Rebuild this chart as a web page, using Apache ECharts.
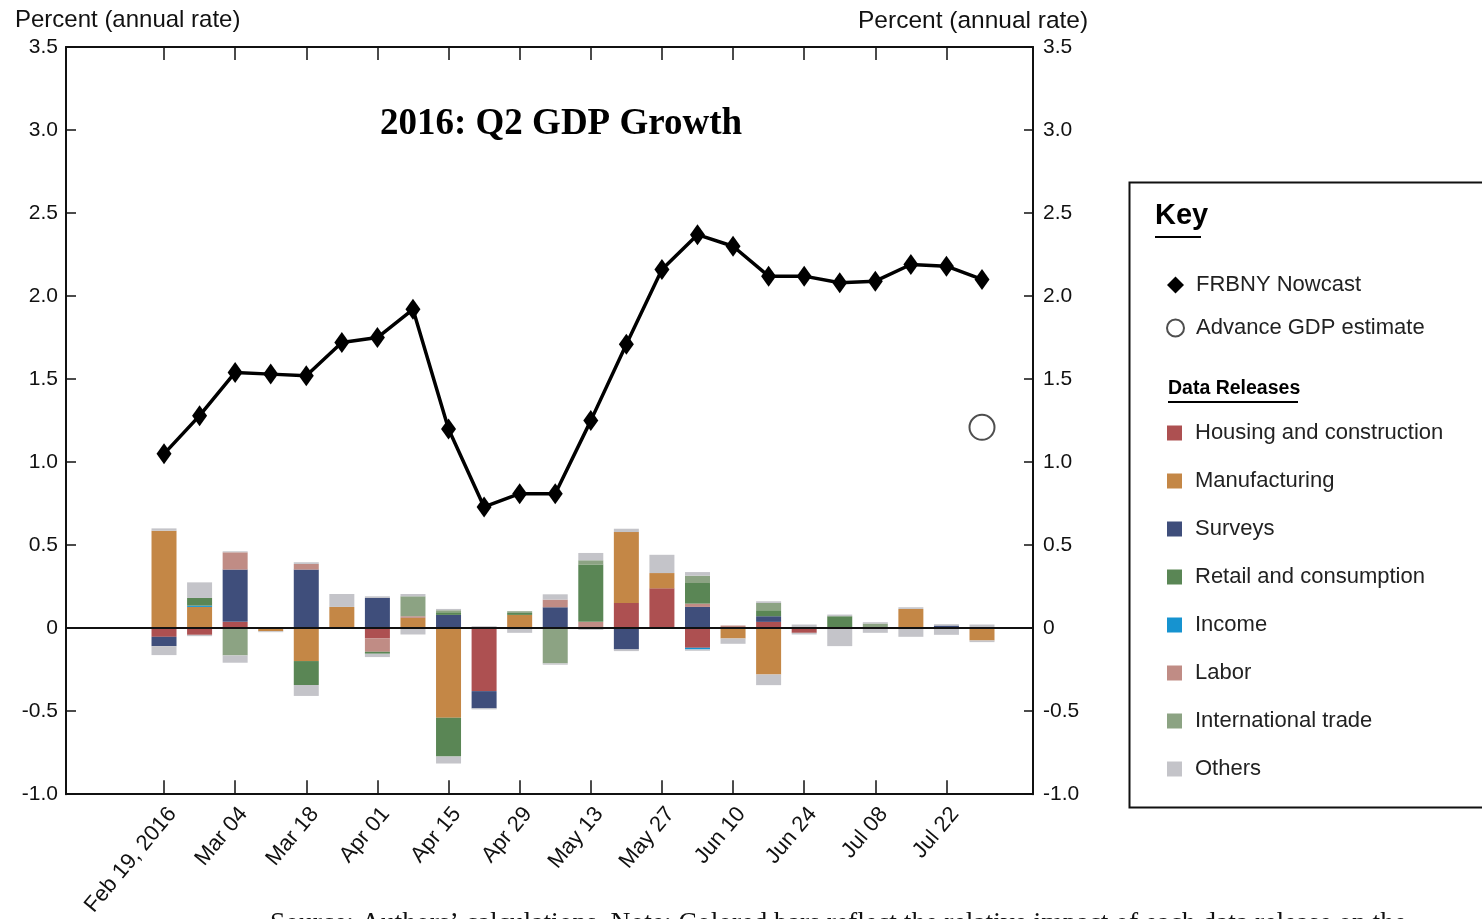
<!DOCTYPE html>
<html>
<head>
<meta charset="utf-8">
<title>2016: Q2 GDP Growth</title>
<script src="https://cdn.jsdelivr.net/npm/echarts@6/dist/echarts.min.js"></script>
<style>
  html, body { margin: 0; padding: 0; background: #fff; }
  #chart { width: 1482px; height: 919px; }
</style>
</head>
<body>
<div id="chart"></div>
<script>
// weekly nowcast dates
const weeks = ['Feb 19', 'Feb 26', 'Mar 04', 'Mar 11', 'Mar 18', 'Mar 25', 'Apr 01', 'Apr 08',
  'Apr 15', 'Apr 22', 'Apr 29', 'May 06', 'May 13', 'May 20', 'May 27', 'Jun 03',
  'Jun 10', 'Jun 17', 'Jun 24', 'Jul 01', 'Jul 08', 'Jul 15', 'Jul 22', 'Jul 29']
const tickWeeks = [0, 2, 4, 6, 8, 10, 12, 14, 16, 18, 20, 22]
const tickLabels = ['Feb 19, 2016', 'Mar 04', 'Mar 18', 'Apr 01', 'Apr 15', 'Apr 29',
  'May 13', 'May 27', 'Jun 10', 'Jun 24', 'Jul 08', 'Jul 22']

const nowcast = [1.05, 1.28, 1.54, 1.53, 1.52, 1.72, 1.75, 1.92, 1.20, 0.73, 0.81, 0.81,
  1.25, 1.71, 2.16, 2.37, 2.30, 2.12, 2.12, 2.08, 2.09, 2.19, 2.18, 2.10]
const advanceWeek = [23]
const advanceGdp = [1.21]

// contributions of each data release (positive / negative parts)
const housingUp = [0, 0, 0.038, 0, 0, 0, 0, 0, 0, 0, 0, 0, 0, 0.152, 0.24, 0, 0, 0.038, 0, 0, 0, 0, 0, 0]
const housingDown = [-0.052, -0.04, 0, 0, 0, 0, -0.062, 0, 0, -0.379, 0, 0, 0, 0, 0, -0.118, 0, 0, -0.028, 0, 0, 0, 0, 0]
const manufUp = [0.587, 0.128, 0, 0, 0, 0.128, 0, 0.062, 0, 0, 0.08, 0, 0, 0.427, 0.092, 0, 0, 0, 0, 0, 0, 0.116, 0, 0]
const manufDown = [0, 0, 0, -0.018, -0.198, 0, 0, 0, -0.539, 0, 0, 0, 0, 0, 0, 0, -0.062, -0.279, 0, 0, 0, 0, 0, -0.074]
const surveysUp = [0, 0, 0.315, 0, 0.353, 0, 0.182, 0, 0.08, 0, 0, 0.126, 0, 0, 0, 0.128, 0, 0.034, 0, 0, 0, 0, 0.016, 0]
const surveysDown = [-0.056, 0, 0, 0, 0, 0, 0, 0, 0, -0.104, 0, 0, 0, -0.128, 0, 0, 0, 0, 0, 0, 0, 0, 0, 0]
const incomeUp = [0, 0.008, 0, 0, 0, 0, 0, 0, 0, 0, 0, 0, 0, 0, 0, 0, 0, 0, 0, 0, 0, 0, 0, 0]
const incomeDown = [0, 0, 0, 0, 0, 0, 0, 0, 0, 0, 0, 0, 0, 0, 0, -0.01, 0, 0, 0, 0, 0, 0, 0, 0]
const laborUp = [0, 0, 0.104, 0, 0.034, 0, 0, 0.01, 0, 0, 0, 0.046, 0.038, 0, 0, 0.02, 0.016, 0, 0, 0, 0, 0, 0, 0]
const laborDown = [0, 0, 0, 0, 0, 0, -0.08, 0, 0, 0, 0, 0, 0, 0, 0, 0, 0, 0, 0, 0, 0, 0, 0, 0]
const retailUp = [0, 0.046, 0, 0, 0, 0, 0, 0, 0.016, 0, 0.012, 0, 0.345, 0, 0, 0.124, 0, 0.036, 0, 0.072, 0, 0, 0, 0]
const retailDown = [0, 0, 0, 0, -0.144, 0, -0.012, 0, -0.234, 0, 0, 0, 0, 0, 0, 0, 0, 0, 0, 0, 0, 0, 0, 0]
const tradeUp = [0, 0, 0, 0, 0, 0, 0, 0.12, 0.012, 0, 0.01, 0, 0.026, 0, 0, 0.044, 0, 0.044, 0, 0, 0.028, 0, 0, 0]
const tradeDown = [0, 0, -0.164, 0, 0, 0, 0, 0, 0, 0, 0, -0.212, 0, 0, 0, 0, 0, 0, 0, 0, 0, 0, 0, 0]
const othersUp = [0.014, 0.094, 0.006, 0, 0.01, 0.078, 0.01, 0.014, 0.008, 0.012, 0, 0.032,
  0.044, 0.02, 0.11, 0.022, 0, 0.01, 0.022, 0.01, 0.008, 0.01, 0.008, 0.022]
const othersDown = [-0.054, -0.008, -0.044, -0.006, -0.066, 0, -0.02, -0.038, -0.042, -0.006, -0.028, -0.008,
  -0.01, -0.01, 0, -0.008, -0.032, -0.064, -0.01, -0.108, -0.028, -0.052, -0.04, -0.01]

// stacking order (from zero outwards)
const releases = [
  {name: 'Housing and construction', color: '#ad5051', up: housingUp, down: housingDown},
  {name: 'Manufacturing', color: '#c48746', up: manufUp, down: manufDown},
  {name: 'Surveys', color: '#3f4e7b', up: surveysUp, down: surveysDown},
  {name: 'Income', color: '#1693d0', up: incomeUp, down: incomeDown},
  {name: 'Labor', color: '#c08c85', up: laborUp, down: laborDown},
  {name: 'Retail and consumption', color: '#5a8655', up: retailUp, down: retailDown},
  {name: 'International trade', color: '#8ca383', up: tradeUp, down: tradeDown},
  {name: 'Others', color: '#c4c4c9', up: othersUp, down: othersDown},
]
const legendOrder = ['Housing and construction', 'Manufacturing', 'Surveys', 'Retail and consumption',
  'Income', 'Labor', 'International trade', 'Others']

const sans = "'Liberation Sans', Arial, sans-serif"
const ink = '#111'

function yLabel(v) {
  return v === 0 ? '0' : v.toFixed(1)
}

function barSeries() {
  const list = []
  for (const part of ['up', 'down']) {
    releases.forEach(r => {
      list.push({
        name: r.name,
        type: 'bar',
        stack: 'contrib',
        barWidth: 25,
        // value first so the stack runs along y
        encode: {x: 1, y: 0},
        data: r[part].map((v, i) => [v, i]),
        itemStyle: {color: r.color},
        z: 2,
      })
    })
  }
  return list
}

function buildOption() {
  const axisLine = {show: true, onZero: false, lineStyle: {color: ink, width: 2}}
  const legendText = {fontFamily: sans, fontSize: 22, lineHeight: 30, color: '#222'}
  return {
    animation: false,
    backgroundColor: '#fff',
    title: {
      text: '2016: Q2 GDP Growth',
      left: 375,
      top: 101,
      textStyle: {fontFamily: "'Liberation Serif', 'DejaVu Serif', serif", fontWeight: 'bold', fontSize: 37, color: '#000'},
    },
    grid: {left: 66, right: 449, top: 47, bottom: 121},
    xAxis: [
      {
        type: 'value',
        position: 'bottom',
        min: -2.756,
        max: 24.434,
        axisLine: axisLine,
        axisTick: {show: true, inside: true, length: 14, customValues: tickWeeks, lineStyle: {color: ink, width: 1.5}},
        axisLabel: {
          customValues: tickWeeks,
          rotate: 50,
          margin: 9,
          verticalAlign: 'top',
          fontFamily: sans,
          fontSize: 22,
          color: ink,
          formatter: v => tickLabels[tickWeeks.indexOf(Math.round(v))] || '',
        },
        splitLine: {show: false},
      },
      {
        type: 'value',
        position: 'top',
        min: -2.756,
        max: 24.434,
        axisLine: axisLine,
        axisTick: {show: true, inside: true, length: 13, customValues: tickWeeks, lineStyle: {color: ink, width: 1.5}},
        axisLabel: {show: false},
        splitLine: {show: false},
      },
    ],
    yAxis: [
      {
        type: 'value',
        position: 'left',
        min: -1,
        max: 3.5,
        interval: 0.5,
        axisLine: axisLine,
        axisTick: {show: true, inside: true, length: 10, lineStyle: {color: ink, width: 1.5}},
        axisLabel: {fontFamily: sans, fontSize: 21, color: ink, margin: 8, formatter: yLabel},
        splitLine: {show: false},
      },
      {
        type: 'value',
        position: 'right',
        min: -1,
        max: 3.5,
        interval: 0.5,
        axisLine: axisLine,
        axisTick: {show: true, inside: true, length: 9, lineStyle: {color: ink, width: 1.5}},
        axisLabel: {fontFamily: sans, fontSize: 21, color: ink, margin: 10, formatter: yLabel},
        splitLine: {show: false},
      },
    ],
    legend: [
      {
        orient: 'vertical',
        left: 1166,
        top: 270,
        padding: 0,
        itemWidth: 17,
        itemHeight: 17,
        itemGap: 13,
        selectedMode: false,
        data: [
          {name: 'FRBNY Nowcast', icon: 'diamond'},
          {name: 'Advance GDP estimate', icon: 'emptyCircle'},
        ],
        textStyle: {...legendText, padding: [0, 0, 0, 7]},
      },
      {
        orient: 'vertical',
        left: 1167,
        top: 418,
        padding: 0,
        itemWidth: 15,
        itemHeight: 15,
        itemGap: 18,
        selectedMode: false,
        data: legendOrder.map(n => ({name: n, icon: 'rect'})),
        textStyle: {...legendText, padding: [0, 0, 0, 8]},
      },
    ],
    graphic: [
      {type: 'rect', left: 1127, top: 180, shape: {width: 400, height: 625}, style: {fill: 'none', stroke: ink, lineWidth: 2}},
      {type: 'text', left: 1155, top: 201, style: {text: 'Key', font: `bold 29px ${sans}`, fill: '#000'}},
      {type: 'line', shape: {x1: 1155, y1: 237, x2: 1201, y2: 237}, style: {stroke: '#000', lineWidth: 2}},
      {type: 'text', left: 1168, top: 379, style: {text: 'Data Releases', font: `bold 19.5px ${sans}`, fill: '#000'}},
      {type: 'line', shape: {x1: 1168, y1: 402, x2: 1298, y2: 402}, style: {stroke: '#000', lineWidth: 2}},
      {type: 'text', left: 15, top: 8, style: {text: 'Percent (annual rate)', font: `24px ${sans}`, fill: ink}},
      {type: 'text', left: 858, top: 9, style: {text: 'Percent (annual rate)', font: `24.5px ${sans}`, fill: ink}},
      {
        type: 'text', left: 270, top: 910,
        style: {
          text: 'Source: Authors’ calculations. Note: Colored bars reflect the relative impact of each data release on the',
          font: `27.5px 'Liberation Serif', serif`, fill: ink,
        },
      },
    ],
    series: [
      ...barSeries(),
      {
        name: 'FRBNY Nowcast',
        type: 'line',
        data: nowcast.map((v, i) => [i, v]),
        symbol: 'diamond',
        symbolSize: [15, 21],
        lineStyle: {color: '#000', width: 3.5},
        itemStyle: {color: '#000'},
        z: 5,
        markLine: {
          silent: true,
          symbol: ['none', 'none'],
          label: {show: false},
          lineStyle: {color: ink, width: 2, type: 'solid'},
          data: [{yAxis: 0}],
        },
      },
      {
        name: 'Advance GDP estimate',
        type: 'scatter',
        data: advanceWeek.map((w, i) => [w, advanceGdp[i]]),
        symbol: 'emptyCircle',
        symbolSize: 25,
        itemStyle: {color: '#222', borderWidth: 1.5},
        z: 5,
      },
    ],
  }
}

const myChart = echarts.init(document.getElementById('chart'))
myChart.setOption(buildOption())
</script>
</body>
</html>
